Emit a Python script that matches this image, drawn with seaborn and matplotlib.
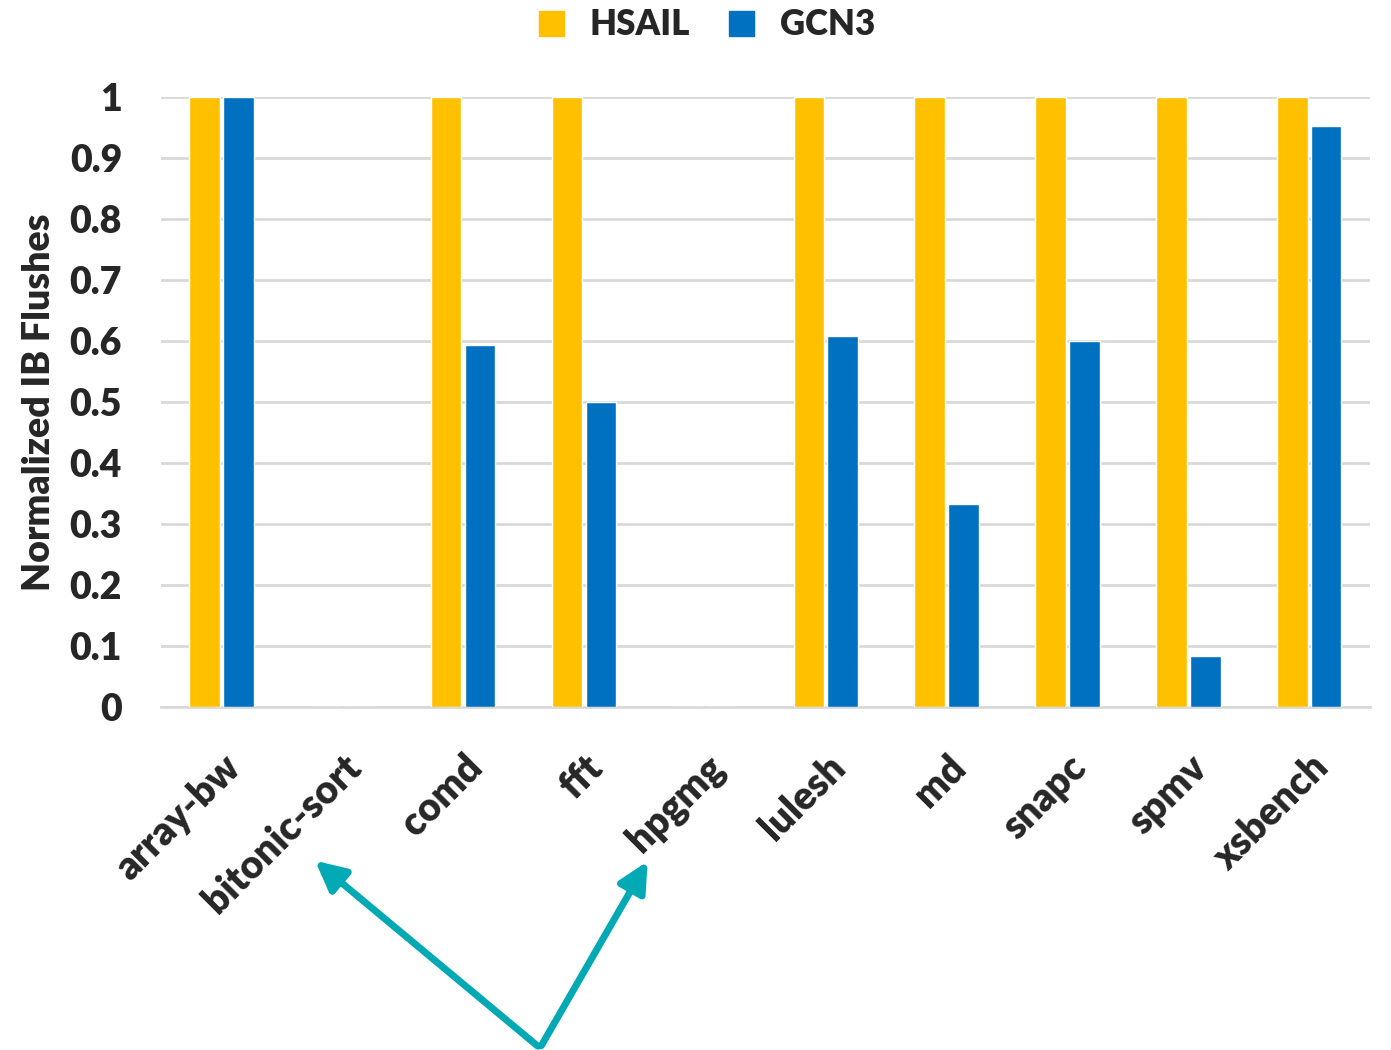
import numpy as np
import pandas as pd
import matplotlib
matplotlib.use("Agg")
import matplotlib.pyplot as plt
from matplotlib.patches import FancyArrowPatch
import seaborn as sns

# data
benchmarks = ["array-bw", "bitonic-sort", "comd", "fft", "hpgmg",
              "lulesh", "md", "snapc", "spmv", "xsbench"]
hsail = [1, 0, 1, 1, 0, 1, 1, 1, 1, 1]
gcn3 = [1, 0, 0.593, 0.5, 0, 0.608, 0.333, 0.6, 0.083, 0.952]

df = pd.DataFrame({"bench": benchmarks * 2,
                   "flushes": hsail + gcn3,
                   "isa": ["HSAIL"] * len(benchmarks) + ["GCN3"] * len(benchmarks)})

sns.set_theme(style="white")
plt.rcParams["font.family"] = ["Lato", "DejaVu Sans"]
W = "heavy"

fig = plt.figure(figsize=(13.91, 10.5), dpi=100)
ax = fig.add_axes([0.1157, 0.3267, 0.869, 0.581])

pal = {"HSAIL": "#FFC000", "GCN3": "#0070C0"}
sns.barplot(data=df, x="bench", y="flushes", hue="isa", palette=pal,
            width=0.56, gap=0.1, saturation=1, edgecolor="white", linewidth=1,
            ax=ax, legend=False, zorder=3)

ax.set_ylim(0, 1)
ax.set_xlim(-0.5, 9.5)
ax.set_yticks(np.arange(0, 1.01, 0.1))
ax.set_yticklabels(["0"] + [f"{v:.1f}" for v in np.arange(0.1, 0.95, 0.1)] + ["1"])
ax.yaxis.grid(True, color="#D9D9D9", linewidth=2, zorder=0)
ax.set_axisbelow(True)
for s in ["top", "right", "left"]:
    ax.spines[s].set_visible(False)
ax.spines["bottom"].set_color("#D9D9D9")
ax.spines["bottom"].set_linewidth(2)
ax.tick_params(axis="y", length=0, labelsize=27, pad=28)
ax.tick_params(axis="x", length=0, labelsize=28, pad=30)
for lab in ax.get_yticklabels():
    lab.set_fontweight(W)
for lab in ax.get_xticklabels():
    lab.set_rotation(45)
    lab.set_ha("right")
    lab.set_rotation_mode("anchor")
    lab.set_fontweight(W)
ax.set_xlabel("")
ax.set_ylabel("Normalized IB Flushes", fontsize=27, fontweight=W, labelpad=10)

handles = [plt.Line2D([], [], marker="s", linestyle="", markersize=18,
                      color=pal[k]) for k in ["HSAIL", "GCN3"]]
fig.legend(handles, ["HSAIL", "GCN3"], loc="upper center", ncol=2,
           bbox_to_anchor=(0.5, 1.022), frameon=False,
           prop={"weight": W, "size": 25}, handletextpad=0.1,
           columnspacing=0.5)

# teal arrows pointing at the empty benchmarks
for tip in [(313, 191), (649, 191)]:
    fig.add_artist(FancyArrowPatch(
        posA=(540, 2), posB=tip, transform=None,
        arrowstyle="-|>,head_length=12,head_width=6",
        color="#00A9B4", linewidth=5, mutation_scale=1.5))

fig.savefig("out.png", dpi=100)
